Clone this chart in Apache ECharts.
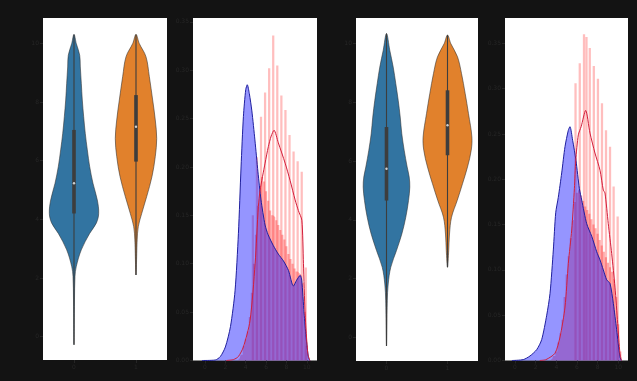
<!DOCTYPE html>
<html><head><meta charset="utf-8">
<script src="https://cdn.jsdelivr.net/npm/echarts@6/dist/echarts.min.js"></script>
<style>html,body{margin:0;padding:0;background:#131313;}#c{width:637px;height:381px;}</style>
</head><body><div id="c"></div>
<script>
// ---------- data ----------
const violinCategories = ['0', '1'];
const violinTicks = [0, 2, 4, 6, 8, 10];
const histXTicks = [0, 2, 4, 6, 8, 10];
const histYTicks = [0, 0.05, 0.1, 0.15, 0.2, 0.25, 0.3, 0.35];

// violin profiles: [value, half-width as fraction of category band]
const v1Blue = [[10.31,0],[10.0,0.037],[9.6,0.092],[9.2,0.102],[8.64,0.118],[8.07,0.134],[7.5,0.156],[6.93,0.182],[6.37,0.215],[5.8,0.253],[5.23,0.306],[4.66,0.376],[4.2,0.398],[3.87,0.36],[3.52,0.253],[2.96,0.118],[2.39,0.037],[2.05,0.016],[1.25,0.008],[-0.28,0]];
const v1Orange = [[10.31,0],[10.0,0.053],[9.55,0.161],[8.87,0.215],[8.07,0.269],[7.39,0.311],[6.76,0.334],[6.14,0.311],[5.46,0.258],[4.78,0.173],[4.2,0.092],[3.75,0.037],[3.3,0.019],[2.1,0]];
const v3Blue = [[10.34,0],[9.77,0.054],[9.2,0.11],[8.64,0.152],[8.07,0.192],[7.5,0.225],[6.93,0.251],[6.37,0.29],[5.8,0.339],[5.46,0.372],[5.12,0.382],[4.66,0.361],[4.09,0.316],[3.52,0.251],[2.96,0.164],[2.39,0.07],[1.82,0.028],[1.25,0.013],[-0.29,0]];
const v3Orange = [[10.29,0],[10.0,0.054],[9.55,0.164],[8.98,0.23],[8.3,0.29],[7.62,0.344],[6.82,0.4],[6.37,0.389],[5.8,0.328],[5.23,0.246],[4.66,0.159],[4.09,0.066],[3.52,0.033],[2.96,0.02],[2.39,0]];
// box stats: [min, q1, median, q3, max]
const v1Stats = [[-0.28,4.2,5.23,7.05,10.31],[2.1,5.97,7.16,8.24,10.31]];
const v3Stats = [[-0.29,4.66,5.74,7.16,10.34],[2.39,6.2,7.22,8.41,10.29]];

// histogram panel 2
const h2BlueKde = [[-0.3,0],[1.0,0.0005],[1.5,0.004],[2.0,0.014],[2.5,0.035],[2.95,0.072],[3.28,0.131],[3.54,0.2],[3.77,0.252],[4.0,0.28],[4.15,0.285],[4.35,0.276],[4.6,0.258],[4.9,0.228],[5.2,0.195],[5.5,0.166],[5.9,0.14],[6.2,0.13],[6.7,0.119],[7.2,0.11],[7.7,0.103],[8.2,0.093],[8.68,0.077],[9.0,0.083],[9.35,0.088],[9.5,0.083],[9.73,0.049],[9.93,0.024],[10.16,0.003],[10.3,0]];
const h2RedKde = [[2.1,0],[2.8,0.001],[3.27,0.004],[3.77,0.014],[4.42,0.041],[4.92,0.1],[5.24,0.159],[5.41,0.176],[5.9,0.204],[6.22,0.221],[6.5,0.232],[6.78,0.238],[7.2,0.225],[7.87,0.204],[8.36,0.186],[8.85,0.166],[9.17,0.155],[9.51,0.145],[9.67,0.1],[9.83,0.049],[10.1,0.007],[10.3,0]];
const h2RedBase = [[3.2,0],[3.4,0.002],[3.6,0.006],[3.8,0.015],[4.0,0.022],[4.2,0.03],[4.4,0.045],[4.6,0.07],[4.8,0.1],[5.0,0.13],[5.2,0.16],[5.4,0.18],[5.6,0.19],[5.8,0.185],[6.0,0.175],[6.2,0.165],[6.4,0.155],[6.6,0.15],[6.8,0.148],[7.0,0.145],[7.2,0.14],[7.4,0.135],[7.6,0.13],[7.8,0.125],[8.0,0.118],[8.2,0.11],[8.4,0.105],[8.6,0.1],[8.8,0.095],[9.0,0.092],[9.2,0.09],[9.4,0.088],[9.6,0.08],[9.8,0.05],[10.0,0.015],[10.2,0]];
const h2RedSpikes = [[4.7,0.15],[5.1,0.21],[5.5,0.252],[5.9,0.277],[6.3,0.302],[6.7,0.336],[7.1,0.305],[7.5,0.274],[7.9,0.259],[8.3,0.233],[8.7,0.216],[9.1,0.206],[9.5,0.195],[9.9,0.096]];

// histogram panel 4
const h4BlueKde = [[-0.3,0],[0.8,0.001],[1.45,0.005],[2.1,0.012],[2.58,0.023],[3.07,0.05],[3.39,0.074],[3.71,0.122],[3.94,0.163],[4.19,0.18],[4.52,0.207],[4.84,0.236],[5.16,0.254],[5.32,0.258],[5.58,0.243],[5.9,0.221],[6.23,0.19],[6.46,0.177],[6.94,0.151],[7.43,0.137],[7.91,0.12],[8.23,0.111],[8.55,0.1],[8.88,0.089],[9.2,0.085],[9.52,0.063],[9.84,0.034],[10.16,0.004],[10.3,0]];
const h4RedKde = [[2.4,0],[3.0,0.001],[3.87,0.008],[4.36,0.026],[4.84,0.059],[5.16,0.107],[5.49,0.144],[5.75,0.19],[5.88,0.221],[6.13,0.249],[6.4,0.258],[6.84,0.276],[7.26,0.251],[7.74,0.229],[8.23,0.21],[8.55,0.188],[8.71,0.185],[9.03,0.151],[9.36,0.118],[9.68,0.081],[9.94,0.041],[10.16,0.008],[10.3,0]];
const h4RedBase = [[3.4,0],[3.6,0.002],[3.8,0.005],[4.0,0.01],[4.2,0.02],[4.4,0.03],[4.6,0.045],[4.8,0.07],[5.0,0.095],[5.2,0.115],[5.4,0.135],[5.6,0.155],[5.8,0.175],[6.0,0.185],[6.2,0.188],[6.4,0.182],[6.6,0.176],[6.8,0.17],[7.0,0.166],[7.2,0.162],[7.4,0.156],[7.6,0.15],[7.8,0.146],[8.0,0.14],[8.2,0.133],[8.4,0.127],[8.6,0.12],[8.8,0.114],[9.0,0.108],[9.2,0.103],[9.4,0.098],[9.6,0.09],[9.8,0.07],[10.0,0.04],[10.2,0.01],[10.4,0]];
const h4RedSpikes = [[5.86,0.306],[6.27,0.328],[6.68,0.36],[6.92,0.357],[7.24,0.345],[7.63,0.325],[8.03,0.311],[8.42,0.284],[8.81,0.254],[9.2,0.236],[9.55,0.192],[9.94,0.159]];

// ---------- styling ----------
const BG = '#131313';
const LABEL = '#262626';
const violinFill = ['#3274a1', '#e1812c'];
const violinEdge = 'rgba(45,45,45,0.55)';

const grids = [
  {left: 43, top: 18, width: 124, height: 342},
  {left: 193, top: 18, width: 124, height: 342.5},
  {left: 356, top: 18, width: 122, height: 343},
  {left: 505, top: 18, width: 123, height: 342.5}
].map(g => Object.assign({show: true, backgroundColor: '#ffffff', borderWidth: 0, containLabel: false}, g));

function labelStyle() { return {color: LABEL, fontSize: 6, fontFamily: 'DejaVu Sans', margin: 4}; }

function violinAxes(gi) {
  return {
    x: {type: 'category', gridIndex: gi, data: violinCategories, boundaryGap: true, position: 'bottom',
        axisLine: {show: false, onZero: false}, axisTick: {show: true, alignWithLabel: true, length: 3, lineStyle: {color: LABEL}},
        axisLabel: labelStyle(), splitLine: {show: false}},
    y: {type: 'value', gridIndex: gi, min: -0.8, max: 10.87,
        axisLine: {show: false, onZero: false}, splitLine: {show: false},
        axisTick: {show: true, length: 3, lineStyle: {color: LABEL}, customValues: violinTicks},
        axisLabel: Object.assign(labelStyle(), {customValues: violinTicks})}
  };
}
function histAxes(gi, xmin, xmax, ymax) {
  return {
    x: {type: 'value', gridIndex: gi, min: xmin, max: xmax, position: 'bottom',
        axisLine: {show: false, onZero: false}, splitLine: {show: false},
        axisTick: {show: true, length: 3, lineStyle: {color: LABEL}, customValues: histXTicks},
        axisLabel: Object.assign(labelStyle(), {customValues: histXTicks})},
    y: {type: 'value', gridIndex: gi, min: 0, max: ymax,
        axisLine: {show: false, onZero: false}, splitLine: {show: false},
        axisTick: {show: true, length: 3, lineStyle: {color: LABEL}, customValues: histYTicks},
        axisLabel: Object.assign(labelStyle(), {customValues: histYTicks, formatter: v => v.toFixed(2)})}
  };
}

const axes = [violinAxes(0), histAxes(1, -1.18, 11.0, 0.354), violinAxes(2), histAxes(3, -0.97, 10.94, 0.378)];

function violinSeries(gi, profiles, stats) {
  return {
    type: 'custom', xAxisIndex: gi, yAxisIndex: gi, clip: true,
    data: stats.map((s, i) => [i].concat(s)),
    renderItem(params, api) {
      const i = api.value(0);
      const prof = profiles[i];
      const band = api.size([1, 0])[0];
      const left = [], right = [];
      prof.forEach(([v, w]) => {
        const c = api.coord([i, v]);
        left.push([c[0] - w * band, c[1]]);
        if (w > 0) right.push([c[0] + w * band, c[1]]);
      });
      const pts = left.concat(right.reverse());
      const pMin = api.coord([i, api.value(1)]);
      const pQ1 = api.coord([i, api.value(2)]);
      const pMed = api.coord([i, api.value(3)]);
      const pQ3 = api.coord([i, api.value(4)]);
      const pMax = api.coord([i, api.value(5)]);
      return {
        type: 'group',
        children: [
          {type: 'polygon', shape: {points: pts, smooth: 0.35},
           style: {fill: violinFill[i], stroke: violinEdge, lineWidth: 1}},
          {type: 'line', shape: {x1: pMin[0], y1: pMin[1], x2: pMax[0], y2: pMax[1]},
           style: {stroke: '#3d3d3d', lineWidth: 1.1}},
          {type: 'rect', shape: {x: pQ3[0] - 1.8, y: pQ3[1], width: 3.6, height: pQ1[1] - pQ3[1]},
           style: {fill: '#3d3d3d'}},
          {type: 'circle', shape: {cx: pMed[0], cy: pMed[1], r: 1.2},
           style: {fill: '#d0d0d0'}}
        ]
      };
    }
  };
}

function spikeSeries(gi, data) {
  return {
    type: 'custom', xAxisIndex: gi, yAxisIndex: gi, clip: true, z: 2,
    data: data,
    renderItem(params, api) {
      const x = api.value(0), h = api.value(1);
      const p0 = api.coord([x - 0.11, 0]);
      const p1 = api.coord([x + 0.11, h]);
      return {type: 'rect', shape: {x: p0[0], y: p1[1], width: p1[0] - p0[0], height: p0[1] - p1[1]},
              style: {fill: 'rgba(255,40,40,0.30)'}};
    }
  };
}

function histSeries(gi, base, spikes, blue, red) {
  return [
    {type: 'line', xAxisIndex: gi, yAxisIndex: gi, data: base, step: 'middle', symbol: 'none', z: 1,
     lineStyle: {width: 0}, areaStyle: {color: 'rgba(255,40,40,0.38)', opacity: 1}, silent: true},
    spikeSeries(gi, spikes),
    {type: 'line', xAxisIndex: gi, yAxisIndex: gi, data: blue, smooth: 0.25, symbol: 'none', z: 3,
     lineStyle: {color: '#1f1f9e', width: 1}, areaStyle: {color: 'rgba(20,20,255,0.45)', opacity: 1}, silent: true},
    {type: 'line', xAxisIndex: gi, yAxisIndex: gi, data: red, smooth: 0.25, symbol: 'none', z: 4,
     lineStyle: {color: '#d21f3c', width: 1}, silent: true}
  ];
}

const chart = echarts.init(document.getElementById('c'), null, {renderer: 'canvas'});
chart.setOption({
  backgroundColor: BG,
  animation: false,
  grid: grids,
  xAxis: axes.map(a => a.x),
  yAxis: axes.map(a => a.y),
  series: [
    violinSeries(0, [v1Blue, v1Orange], v1Stats),
    ...histSeries(1, h2RedBase, h2RedSpikes, h2BlueKde, h2RedKde),
    violinSeries(2, [v3Blue, v3Orange], v3Stats),
    ...histSeries(3, h4RedBase, h4RedSpikes, h4BlueKde, h4RedKde)
  ]
});
</script></body></html>
